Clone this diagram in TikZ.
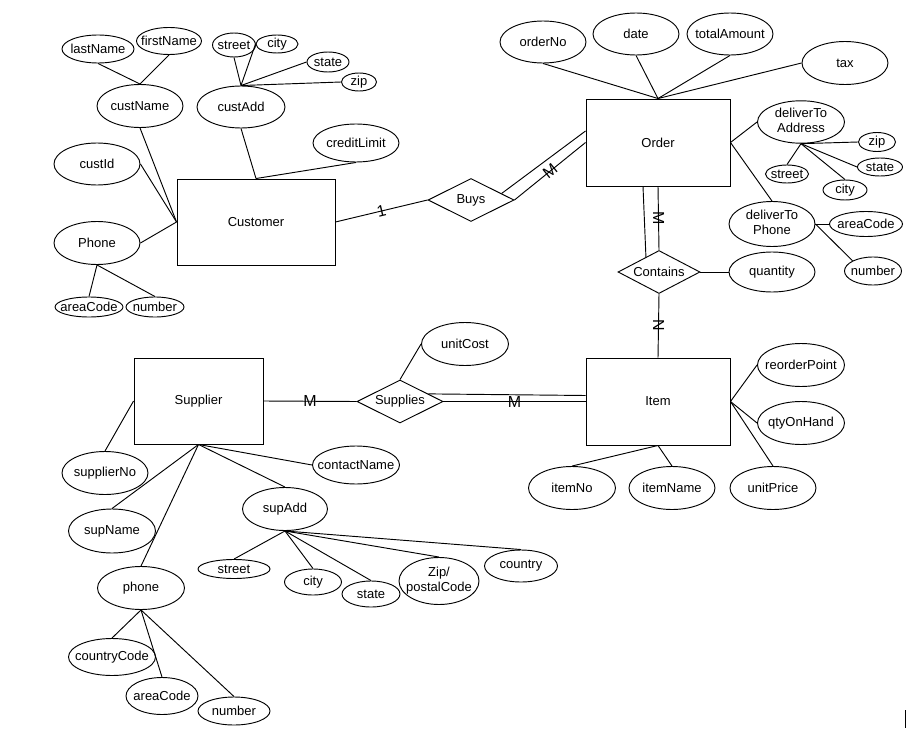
\documentclass[tikz,border=0pt]{standalone}
\usepackage{fontspec}
\setmainfont{Liberation Sans}
\usetikzlibrary{shapes.geometric}
\usetikzlibrary{calc}

% text that does not widen its ellipse
\newcommand{\nt}[1]{\makebox[0pt]{#1}}
\newcommand{\two}[2]{\makebox[0pt]{\begin{tabular}{@{}c@{}}#1\\#2\end{tabular}}}

\begin{document}
\begin{tikzpicture}[x=0.75pt,y=-0.75pt,line width=0.7pt,
    font=\fontsize{9.75}{11.25}\selectfont,
    wh/.style 2 args={minimum width=#1*0.75pt,minimum height=#2*0.75pt},
    attr/.style={ellipse,draw,inner sep=0pt},
    entity/.style={rectangle,draw,inner sep=0pt},
    rel/.style={diamond,aspect=2,draw,inner sep=0pt},
    card/.style={font=\fontsize{12}{14}\selectfont,inner sep=0pt}]

\useasboundingbox (0,0) rectangle (913,738);

% Customer and its attributes
\node[entity,wh={158}{86}] (customer) at (256,222) {Customer};
\node[attr,wh={72}{28}] (lastName) at (98,49) {\nt{lastName}};
\node[attr,wh={65}{27}] (firstName) at (169,41) {\nt{firstName}};
\node[attr,wh={86}{43}] (custName) at (140,106) {\nt{custName}};
\node[attr,wh={43}{24}] (street) at (234,45) {\nt{street}};
\node[attr,wh={42}{18}] (city) at (277,44) {\nt{city}};
\node[attr,wh={42}{20}] (state) at (328,62) {\nt{state}};
\node[attr,wh={35}{18}] (zip) at (359,82) {\nt{zip}};
\node[attr,wh={88}{42}] (custAdd) at (241,107) {\nt{custAdd}};
\node[attr,wh={86}{38}] (creditLimit) at (356,143) {\nt{creditLimit}};
\node[attr,wh={86}{42}] (custId) at (97,164) {\nt{custId}};
\node[attr,wh={86}{43}] (custPhone) at (97,243) {\nt{Phone}};
\node[attr,wh={68}{20}] (custArea) at (89,307) {\nt{areaCode}};
\node[attr,wh={58}{20}] (custNumber) at (155,307) {\nt{number}};

% Order and its attributes
\node[rel,wh={86}{43}] (buys) at (471,200) {Buys};
\node[entity,wh={144}{87}] (order) at (658,142.5) {Order};
\node[attr,wh={86}{42}] (orderNo) at (543,42) {\nt{orderNo}};
\node[attr,wh={86}{42}] (date) at (636,34) {\nt{date}};
\node[attr,wh={86}{42}] (totalAmount) at (730,34) {\nt{totalAmount}};
\node[attr,wh={86}{43}] (tax) at (845,63) {\nt{tax}};
\node[attr,wh={87}{41}] (dta) at (801,122) {\two{deliverTo}{Address}};
\node[attr,wh={37}{19}] (dtaZip) at (877,142) {\nt{zip}};
\node[attr,wh={45}{18}] (dtaState) at (880,167) {\nt{state}};
\node[attr,wh={43}{18}] (dtaStreet) at (787,174) {\nt{street}};
\node[attr,wh={44}{20}] (dtaCity) at (845,190) {\nt{city}};
\node[attr,wh={86}{45}] (dtp) at (772,224) {\two{deliverTo}{Phone}};
\node[attr,wh={73}{25}] (dtpArea) at (866,224) {\nt{areaCode}};
\node[attr,wh={57}{28}] (dtpNumber) at (873,271) {\nt{number}};
\node[rel,wh={82}{43}] (contains) at (659,272) {Contains};
\node[attr,wh={86}{40}] (quantity) at (772,272) {\nt{quantity}};

% Supplier, Item and their attributes
\node[entity,wh={129}{86}] (supplier) at (198.5,401) {Supplier};
\node[rel,wh={86}{43}] (supplies) at (400,401.5) {Supplies};
\node[attr,wh={87}{43}] (unitCost) at (465,344) {\nt{unitCost}};
\node[entity,wh={144}{87}] (item) at (658,401.5) {Item};
\node[attr,wh={87}{43}] (reorderPoint) at (801,365) {\nt{reorderPoint}};
\node[attr,wh={87}{43}] (qtyOnHand) at (801,423) {\nt{qtyOnHand}};
\node[attr,wh={86}{43}] (unitPrice) at (773,488) {\nt{unitPrice}};
\node[attr,wh={87}{43}] (itemNo) at (572,488) {\nt{itemNo}};
\node[attr,wh={86}{43}] (itemName) at (672,488) {\nt{itemName}};
\node[attr,wh={86}{43}] (supplierNo) at (105,473) {\nt{supplierNo}};
\node[attr,wh={87}{44}] (supName) at (112,531) {\nt{supName}};
\node[attr,wh={87}{38}] (contactName) at (356,465) {\nt{contactName}};
\node[attr,wh={85}{43}] (supAdd) at (285,509) {\nt{supAdd}};
\node[attr,wh={87}{43}] (supPhone) at (141,588) {\nt{phone}};
\node[attr,wh={87}{37}] (countryCode) at (112,657) {\nt{countryCode}};
\node[attr,wh={72}{37}] (supArea) at (162,696) {\nt{areaCode}};
\node[attr,wh={72}{28}] (supNumber) at (234,711) {\nt{number}};
\node[attr,wh={72}{19}] (supStreet) at (234,569) {\nt{street}};
\node[attr,wh={57}{26}] (supCity) at (313,582) {\nt{city}};
\node[attr,wh={58}{26}] (supState) at (371,594) {\nt{state}};
\node[attr,wh={80}{47}] (supZip) at (439,581) {\two{Zip/}{postalCode}};
\node[attr,wh={73}{32}] (country) at (521,566) {\nt{country}};

% customer links
\path
  (lastName.south) edge (custName.north)
  (firstName.south) edge (custName.north)
  (street.south) edge (custAdd.north)
  (city.west) edge (custAdd.north)
  (state.west) edge (custAdd.north)
  (zip.west) edge (custAdd.north)
  (custName.south) edge (customer.west)
  (custId.east) edge (customer.west)
  (custPhone.east) edge (customer.west)
  (custPhone.south) edge (custArea.north)
  (custPhone.south) edge (custNumber.north)
  (custAdd.south) edge (customer.north)
  (creditLimit.south) edge (customer.north)
  (customer.east) edge node[card,sloped] {1} (buys.west);

% order links
\path
  (buys.east) edge node[card,sloped] {M} (order.west)
  (buys.12) edge ($(order.west)+(0,-11.5)$)
  (orderNo.south) edge (order.north)
  (date.south) edge (order.north)
  (totalAmount.south) edge (order.north)
  (tax.west) edge (order.north)
  (order.east) edge (dta.west)
  (order.east) edge (dtp.north)
  (dta.south) edge (dtaStreet.north)
  (dta.south) edge (dtaCity.north)
  (dta.south) edge (dtaState.west)
  (dta.south) edge (dtaZip.west)
  (dtp.east) edge (dtpArea.west)
  (dtp.east) edge (dtpNumber.north west)
  (order.south) edge node[card,rotate=-90] {M} (contains.north)
  ($(order.south)+(-15,0)$) edge (contains.131)
  (contains.east) edge (quantity.west)
  (contains.south) edge node[card,rotate=-90] {N} (item.north);

% supplier and item links
\path
  (supplier.east) edge node[card] {M} (supplies.west)
  (supplies.north) edge (unitCost.west)
  (supplies.east) edge node[card] {M} (item.west)
  (supplies.15) edge ($(item.west)+(0,-6)$)
  (item.east) edge (reorderPoint.west)
  (item.east) edge (qtyOnHand.west)
  (item.east) edge (unitPrice.north)
  (item.south) edge (itemNo.north)
  (item.south) edge (itemName.north)
  (supplierNo.north) edge (supplier.west)
  (supplier.south) edge (supName.north)
  (supplier.south) edge (supPhone.north)
  (supplier.south) edge (supAdd.north)
  (supplier.south) edge (contactName.west)
  (supPhone.south) edge (countryCode.north)
  (supPhone.south) edge (supArea.north)
  (supPhone.south) edge (supNumber.north)
  (supAdd.south) edge (supStreet.north)
  (supAdd.south) edge (supCity.north)
  (supAdd.south) edge (supState.north)
  (supAdd.south) edge (supZip.north)
  (supAdd.south) edge (country.north);

\draw (905,710) -- (905,728);
\end{tikzpicture}
\end{document}
